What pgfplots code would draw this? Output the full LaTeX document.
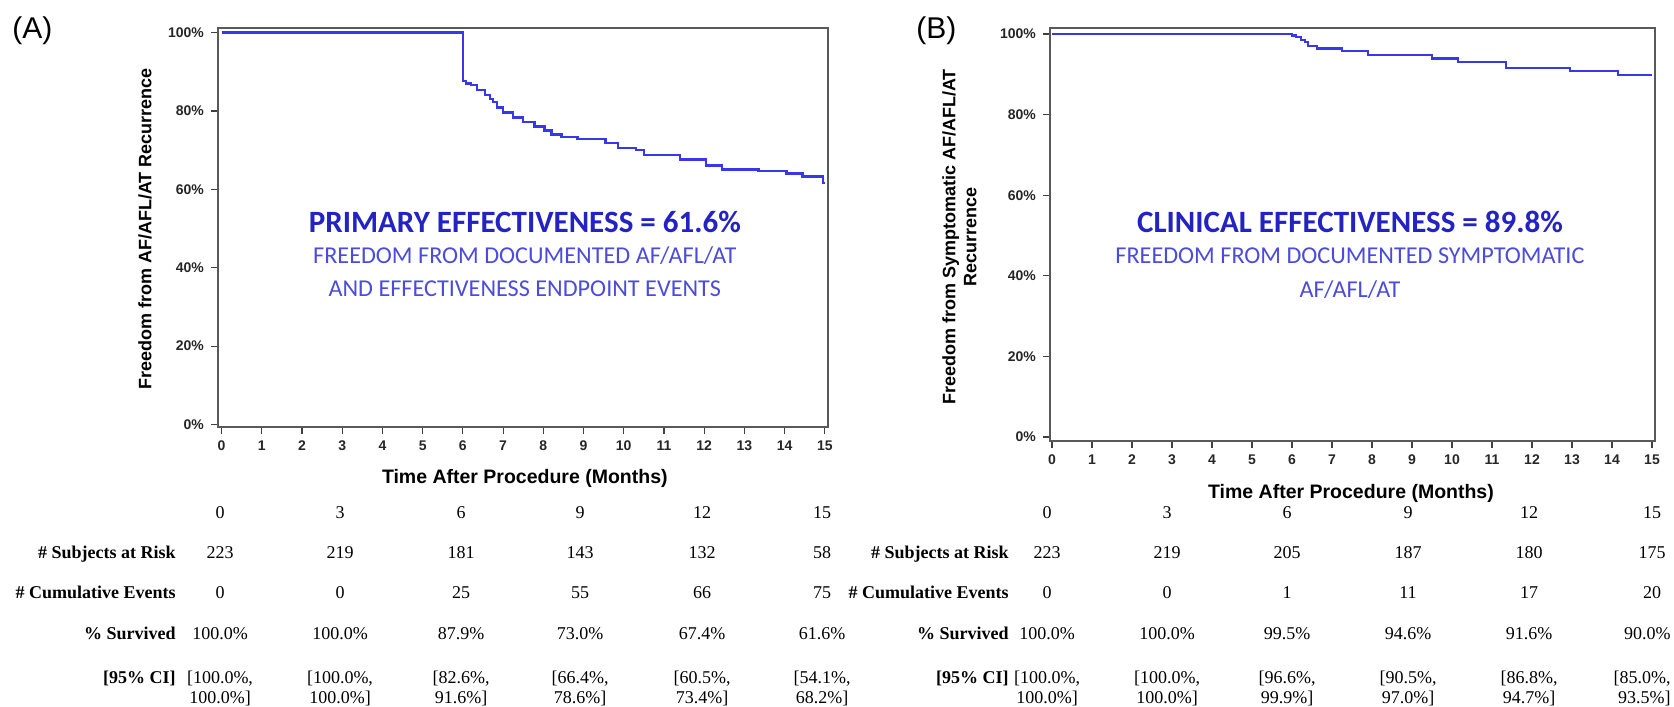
\documentclass[border=0pt]{standalone}
\usepackage{fontspec}
\setmainfont{Liberation Sans}
\newfontfamily\serf{Liberation Serif}
\newfontfamily\calfont{Carlito}
\usepackage{pgfplots}
\pgfplotsset{compat=1.18}

\definecolor{kmblue}{RGB}{55,55,235}
\definecolor{ttlblue}{RGB}{35,35,195}
\definecolor{subblue}{RGB}{75,75,220}

\pgfplotsset{kmstyle/.style={
  scale only axis, anchor=south west,
  xtick={0,...,15}, ytick={0,20,...,100},
  yticklabel={\pgfmathprintnumber{\tick}\%},
  tick pos=left, tick align=outside, major tick length=3.5pt,
  tick style={black!75, line width=0.6pt},
  axis line style={black!65, line width=0.9pt},
  ticklabel style={font=\fontsize{7}{8}\selectfont\bfseries, black!85},
  /pgf/number format/assume math mode=true,
  xlabel style={font=\fontsize{9.75}{11}\selectfont\bfseries, anchor=center},
  ylabel style={font=\fontsize{9}{10.5}\selectfont\bfseries, anchor=center, align=center},
  clip=false,
}}

\pgfplotstableread{
x y
0.00 100.0
6.00 87.6
6.08 87.0
6.20 86.6
6.35 85.4
6.55 84.0
6.68 83.0
6.75 82.2
6.85 80.9
7.00 79.6
7.25 78.3
7.50 77.1
7.78 76.0
8.03 75.0
8.20 74.0
8.45 73.3
8.85 72.8
9.55 71.8
9.85 70.5
10.30 70.0
10.50 68.7
11.40 67.6
12.05 66.1
12.45 65.1
13.35 64.6
14.05 64.0
14.45 63.3
14.95 61.6
15.00 61.6
}\curveA

\pgfplotstableread{
x y
0.00 100.0
6.00 99.6
6.10 99.2
6.22 98.5
6.32 98.0
6.40 97.1
6.62 96.4
7.25 95.8
7.90 94.8
9.50 93.9
10.15 93.1
11.35 91.6
12.95 90.9
14.15 89.8
15.00 89.8
}\curveB

\begin{document}
\begin{tikzpicture}
% ---------- Panel A ----------
\begin{axis}[kmstyle, at={(109pt,-213.5pt)}, width=305pt, height=199.5pt,
  xmin=-0.09, xmax=15.08, ymin=-0.64, ymax=101.15,
  xlabel={Time After Procedure (Months)},
  xlabel style={at={(rel axis cs:0.503,-0.128)}},
  ylabel={Freedom from AF/AFL/AT Recurrence},
  ylabel style={at={(rel axis cs:-0.1197,0.496)}},
]
\addplot[const plot, kmblue, line width=1.2pt, mark=none] table[x=x,y=y] {\curveA};
\node[font=\calfont\bfseries\fontsize{15.5}{17}\selectfont, text=ttlblue] at (axis cs:7.54,51.7) {PRIMARY EFFECTIVENESS = 61.6\%};
\node[font=\calfont\fontsize{12.1}{14}\selectfont, text=subblue] at (axis cs:7.54,43.0) {FREEDOM FROM DOCUMENTED AF/AFL/AT};
\node[font=\calfont\fontsize{12.1}{14}\selectfont, text=subblue] at (axis cs:7.54,34.6) {AND EFFECTIVENESS ENDPOINT EVENTS};
\end{axis}
% ---------- Panel B ----------
\begin{axis}[kmstyle, at={(525pt,-220.5pt)}, width=302.5pt, height=206.5pt,
  xmin=-0.05, xmax=15.075, ymin=-1.0, ymax=101.5,
  xlabel={Time After Procedure (Months)},
  xlabel style={at={(rel axis cs:0.4975,-0.126)}},
  ylabel={Freedom from Symptomatic AF/AFL/AT\\Recurrence},
  ylabel style={at={(rel axis cs:-0.1496,0.494)}},
]
\addplot[const plot, kmblue, line width=1.2pt, mark=none] table[x=x,y=y] {\curveB};
\node[font=\calfont\bfseries\fontsize{15.5}{17}\selectfont, text=ttlblue] at (axis cs:7.45,53.4) {CLINICAL EFFECTIVENESS = 89.8\%};
\node[font=\calfont\fontsize{12.1}{14}\selectfont, text=subblue] at (axis cs:7.45,44.9) {FREEDOM FROM DOCUMENTED SYMPTOMATIC};
\node[font=\calfont\fontsize{12.1}{14}\selectfont, text=subblue] at (axis cs:7.45,36.5) {AF/AFL/AT};
\end{axis}
% ---------- labels and risk tables ----------
\begin{scope}[x=0.5pt,y=-0.5pt]
\node[font=\fontsize{15}{17}\selectfont, anchor=west, inner sep=0pt] at (12,31) {(A)};
\node[font=\fontsize{15}{17}\selectfont, anchor=west, inner sep=0pt] at (916,31) {(B)};
\begin{scope}[every node/.style={font=\serf\fontsize{9}{10}\selectfont, inner sep=0pt}]
% Table A
\foreach \x/\v in {220/0,340/3,461/6,580/9,702/12,822/15} \node[anchor=base] at (\x,518) {\v};
\node[anchor=base east, font=\serf\bfseries\fontsize{9}{10}\selectfont] at (176,558) {\# Subjects at Risk};
\node[anchor=base east, font=\serf\bfseries\fontsize{9}{10}\selectfont] at (176,598) {\# Cumulative Events};
\node[anchor=base east, font=\serf\bfseries\fontsize{9}{10}\selectfont] at (176,639) {\% Survived};
\node[anchor=base east, font=\serf\bfseries\fontsize{9}{10}\selectfont] at (176,683) {[95\% CI]};
\foreach \x/\v in {220/223,340/219,461/181,580/143,702/132,822/58} \node[anchor=base] at (\x,558) {\v};
\foreach \x/\v in {220/0,340/0,461/25,580/55,702/66,822/75} \node[anchor=base] at (\x,598) {\v};
\foreach \x/\v in {220/100.0,340/100.0,461/87.9,580/73.0,702/67.4,822/61.6} \node[anchor=base] at (\x,639) {\v\%};
\foreach \x/\a/\b in {220/100.0/100.0,340/100.0/100.0,461/82.6/91.6,580/66.4/78.6,702/60.5/73.4,822/54.1/68.2}
  {\node[anchor=base] at (\x,683) {[\a\%,}; \node[anchor=base] at (\x,703) {\b\%]};}
% Table B
\foreach \x/\v in {1047/0,1167/3,1287/6,1408/9,1529/12,1652/15} \node[anchor=base] at (\x,518) {\v};
\node[anchor=base east, font=\serf\bfseries\fontsize{9}{10}\selectfont] at (1009,558) {\# Subjects at Risk};
\node[anchor=base east, font=\serf\bfseries\fontsize{9}{10}\selectfont] at (1009,598) {\# Cumulative Events};
\node[anchor=base east, font=\serf\bfseries\fontsize{9}{10}\selectfont] at (1009,639) {\% Survived};
\node[anchor=base east, font=\serf\bfseries\fontsize{9}{10}\selectfont] at (1009,683) {[95\% CI]};
\foreach \x/\v in {1047/223,1167/219,1287/205,1408/187,1529/180,1652/175} \node[anchor=base] at (\x,558) {\v};
\foreach \x/\v in {1047/0,1167/0,1287/1,1408/11,1529/17,1652/20} \node[anchor=base] at (\x,598) {\v};
\foreach \x/\v in {1047/100.0,1167/100.0,1287/99.5,1408/94.6,1529/91.6} \node[anchor=base] at (\x,639) {\v\%};
\node[anchor=base east] at (1671,639) {90.0\%};
\foreach \x/\a/\b in {1047/100.0/100.0,1167/100.0/100.0,1287/96.6/99.9,1408/90.5/97.0,1529/86.8/94.7}
  {\node[anchor=base] at (\x,683) {[\a\%,}; \node[anchor=base] at (\x,703) {\b\%]};}
\node[anchor=base east] at (1671,683) {[85.0\%,};
\node[anchor=base east] at (1671,703) {93.5\%]};
\end{scope}
\end{scope}
\pgfresetboundingbox
\path[use as bounding box] (0pt,0pt) rectangle (837pt,-353pt);
\end{tikzpicture}
\end{document}
